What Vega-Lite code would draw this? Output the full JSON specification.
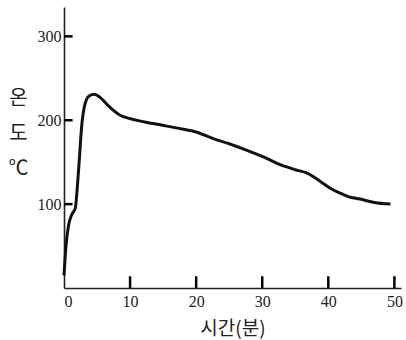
{
  "$schema": "https://vega.github.io/schema/vega-lite/v6.json",
  "width": 337,
  "height": 281,
  "autosize": "none",
  "padding": {"left": 64, "top": 7, "right": 5, "bottom": 52},
  "background": "white",
  "config": {"view": {"stroke": null}},
  "datasets": {
    "curve": [
      {"t": 0, "v": 15},
      {"t": 0.3, "v": 50},
      {"t": 0.7, "v": 75},
      {"t": 1.2, "v": 88},
      {"t": 1.7, "v": 95},
      {"t": 2.2, "v": 140},
      {"t": 2.7, "v": 195},
      {"t": 3.2, "v": 220},
      {"t": 3.8, "v": 229},
      {"t": 4.6, "v": 231},
      {"t": 5.5, "v": 227},
      {"t": 7, "v": 215},
      {"t": 8.5, "v": 206},
      {"t": 10, "v": 202},
      {"t": 13.5, "v": 196},
      {"t": 17.6, "v": 190},
      {"t": 20, "v": 186},
      {"t": 22.6, "v": 178},
      {"t": 25, "v": 172},
      {"t": 27.7, "v": 164},
      {"t": 30, "v": 157},
      {"t": 32.7, "v": 147},
      {"t": 35, "v": 141},
      {"t": 36.8, "v": 137},
      {"t": 38.8, "v": 127},
      {"t": 40.5, "v": 118},
      {"t": 41.8, "v": 113},
      {"t": 43, "v": 109},
      {"t": 44.8, "v": 106},
      {"t": 47, "v": 102},
      {"t": 49.4, "v": 100}
    ],
    "xticks": [{"t": 10}, {"t": 20}, {"t": 30}, {"t": 40}, {"t": 50}],
    "yticks": [{"v": 100}, {"v": 200}, {"v": 300}]
  },
  "layer": [
    {
      "data": {"name": "curve"},
      "mark": {"type": "line", "interpolate": "monotone", "stroke": "#111", "strokeWidth": 3},
      "encoding": {
        "x": {
          "field": "t", "type": "quantitative",
          "scale": {"domain": [0, 51], "nice": false, "zero": false},
          "axis": {
            "values": [0, 10, 20, 30, 40, 50],
            "grid": false, "domainColor": "#222", "domainWidth": 1.6,
            "ticks": false,
            "labelFont": "Liberation Serif", "labelFontSize": 16, "labelColor": "#222",
            "labelPadding": 5,
            "title": "시간(분)", "titleFont": "Noto Sans CJK KR", "titleFontSize": 19,
            "titleFontWeight": "normal", "titleColor": "#222", "titlePadding": 10
          }
        },
        "y": {
          "field": "v", "type": "quantitative",
          "scale": {"domain": [0, 335], "nice": false},
          "axis": {
            "values": [100, 200, 300],
            "grid": false, "domainColor": "#222", "domainWidth": 1.6,
            "ticks": false,
            "labelFont": "Liberation Serif", "labelFontSize": 16, "labelColor": "#222",
            "labelPadding": 3,
            "title": ["온", "도", "℃"], "titleFont": "Noto Sans CJK KR", "titleFontSize": 20,
            "titleFontWeight": "normal", "titleColor": "#222", "titleAngle": 0,
            "titleAlign": "center", "titleBaseline": "top", "titleLineHeight": 35,
            "titleX": -46, "titleY": 81
          }
        }
      }
    },
    {
      "data": {"name": "xticks"},
      "mark": {"type": "rule", "color": "black", "strokeWidth": 2.5},
      "encoding": {
        "x": {"field": "t", "type": "quantitative"},
        "y": {"datum": 0},
        "y2": {"datum": 14}
      }
    },
    {
      "data": {"name": "yticks"},
      "mark": {"type": "rule", "color": "black", "strokeWidth": 2.5},
      "encoding": {
        "y": {"field": "v", "type": "quantitative"},
        "x": {"datum": 0},
        "x2": {"datum": 1.3}
      }
    }
  ]
}
